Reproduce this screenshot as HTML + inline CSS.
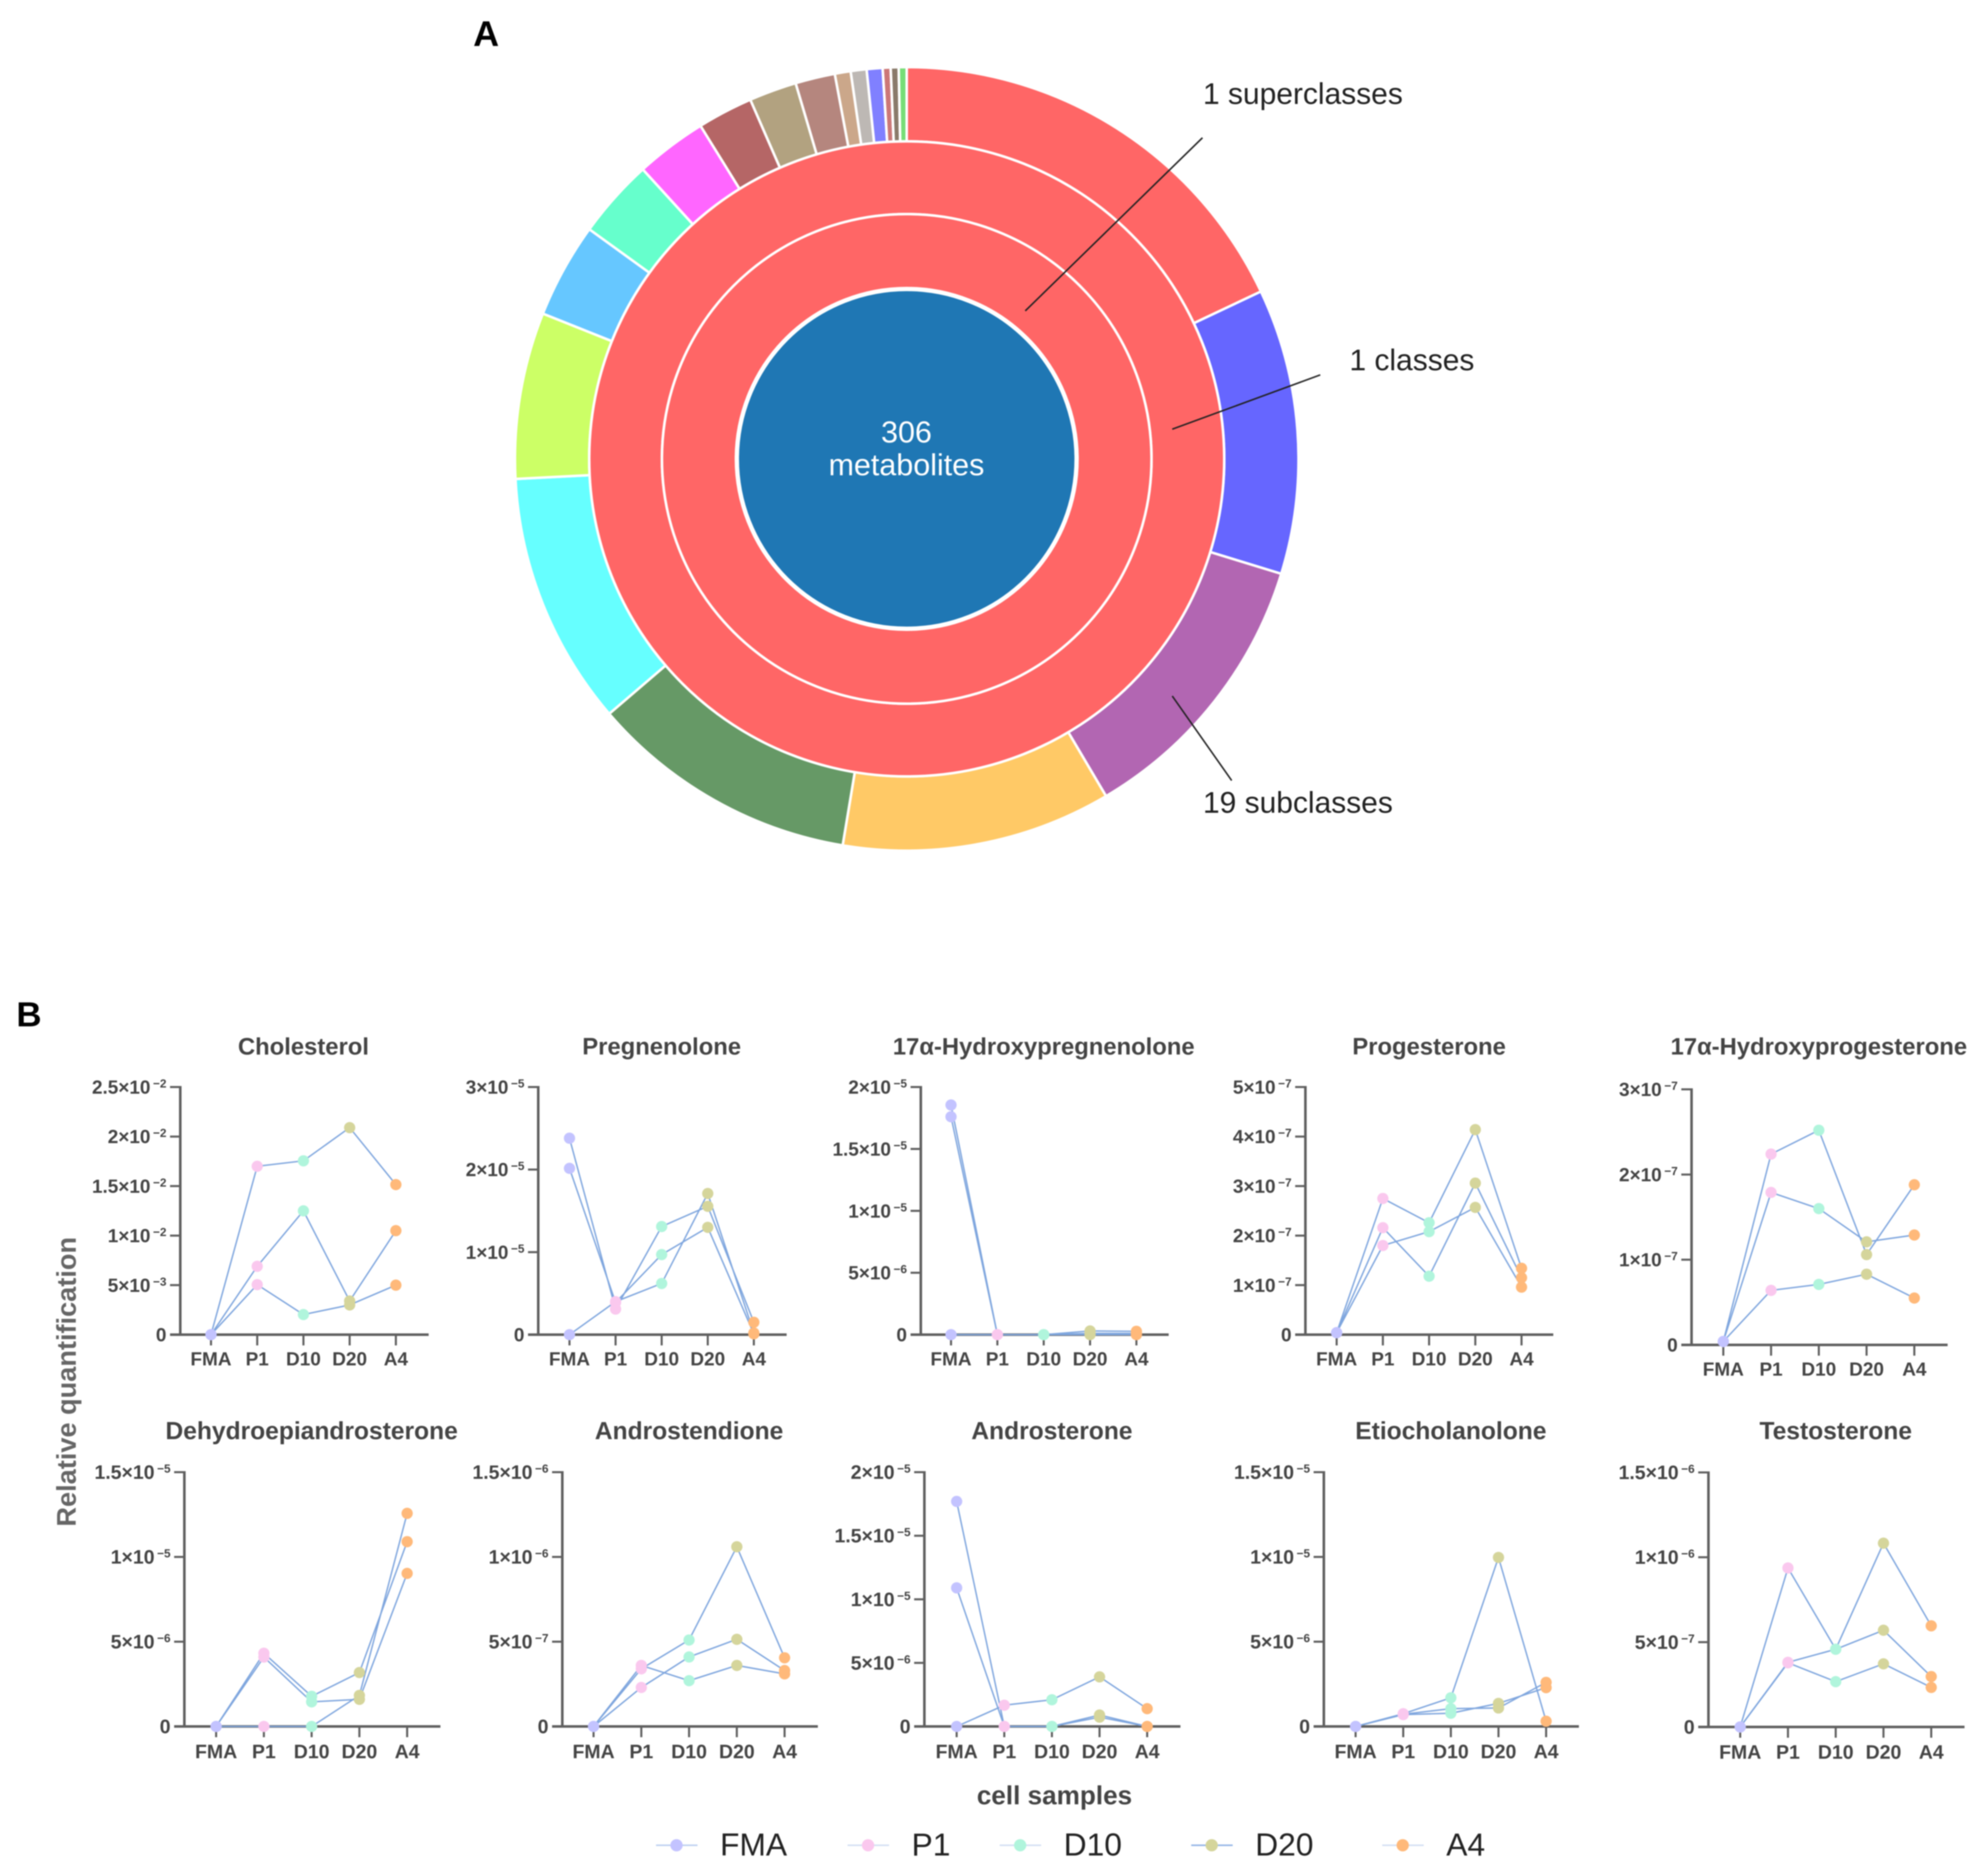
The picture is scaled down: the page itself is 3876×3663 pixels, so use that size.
<!DOCTYPE html>
<html lang="en">
<head>
<meta charset="utf-8">
<title>Steroid metabolite sunburst and relative quantification</title>
<style>
  html, body { margin: 0; padding: 0; background: #fff; }
  body { width: 3876px; height: 3663px; overflow: hidden; }
  svg { display: block; font-family: "Liberation Sans", Arial, sans-serif; filter: blur(1px); }
</style>
</head>
<body>
<svg id="figure" xmlns="http://www.w3.org/2000/svg" width="3876" height="3663" viewBox="0 0 3876 3663"></svg>
<script>
// ----- Panel A data -----
const subclassCounts = [55, 36, 36, 34, 34, 32, 21, 12, 10, 9, 7, 6, 5, 2, 2, 2, 1, 1, 1];
const classCounts = [306];
const superclassCounts = [306];
const totalMetabolites = [306];

// ----- Panel B data -----
const categories = ['FMA', 'P1', 'D10', 'D20', 'A4'];
const panelTitles = ['Cholesterol', 'Pregnenolone', '17α-Hydroxypregnenolone', 'Progesterone', '17α-Hydroxyprogesterone',
  'Dehydroepiandrosterone', 'Androstendione', 'Androsterone', 'Etiocholanolone', 'Testosterone'];

const cholesterolValues = [[0, 17.0, 17.55, 20.9, 15.15], [0, 6.9, 12.5, 3.4, 10.5], [0, 5.05, 2.03, 3.0, 5.0]];
const cholesterolTicks = [0, 5, 10, 15, 20, 25];
const cholesterolTickLabels = ['0', '5×10^3', '1×10^2', '1.5×10^2', '2×10^2', '2.5×10^2'];

const pregnenoloneValues = [[23.8, 3.1, 13.1, 15.55, 1.5], [20.15, 3.9, 9.7, 13.0, 0.1], [0, 4.0, 6.2, 17.1, 0.2]];
const pregnenoloneTicks = [0, 10, 20, 30];
const pregnenoloneTickLabels = ['0', '1×10^5', '2×10^5', '3×10^5'];

const hydroxypregnenoloneValues = [[18.55, 0, 0, 0.3, 0.27], [17.6, 0, 0, 0.1, 0.1], [0, 0, 0, 0, 0]];
const hydroxypregnenoloneTicks = [0, 5, 10, 15, 20];
const hydroxypregnenoloneTickLabels = ['0', '5×10^6', '1×10^5', '1.5×10^5', '2×10^5'];

const progesteroneValues = [[0.04, 2.75, 2.26, 4.14, 1.34], [0.04, 2.16, 1.18, 3.06, 1.15], [0.04, 1.8, 2.08, 2.57, 0.96]];
const progesteroneTicks = [0, 1, 2, 3, 4, 5];
const progesteroneTickLabels = ['0', '1×10^7', '2×10^7', '3×10^7', '4×10^7', '5×10^7'];

const hydroxyprogesteroneValues = [[0.04, 2.24, 2.52, 1.06, 1.88], [0.04, 1.79, 1.6, 1.21, 1.29], [0.04, 0.64, 0.71, 0.83, 0.55]];
const hydroxyprogesteroneTicks = [0, 1, 2, 3];
const hydroxyprogesteroneTickLabels = ['0', '1×10^7', '2×10^7', '3×10^7'];

const dheaValues = [[0, 4.32, 1.78, 3.18, 10.9], [0, 4.09, 1.45, 1.6, 9.03], [0, 0, 0, 1.83, 12.57]];
const dheaTicks = [0, 5, 10, 15];
const dheaTickLabels = ['0', '5×10^6', '1×10^5', '1.5×10^5'];

const androstendioneValues = [[0, 3.6, 2.7, 3.6, 3.1], [0, 3.4, 5.1, 10.6, 4.05], [0, 2.3, 4.1, 5.14, 3.3]];
const androstendioneTicks = [0, 5, 10, 15];
const androstendioneTickLabels = ['0', '5×10^7', '1×10^6', '1.5×10^6'];

const androsteroneValues = [[17.7, 0, 0, 0.9, 0], [10.9, 0, 0, 0.73, 0], [0, 1.67, 2.1, 3.9, 1.4]];
const androsteroneTicks = [0, 5, 10, 15, 20];
const androsteroneTickLabels = ['0', '5×10^6', '1×10^5', '1.5×10^5', '2×10^5'];

const etiocholanoloneValues = [[0, 0.75, 1.69, 9.97, 0.31], [0, 0.72, 1.05, 1.09, 2.6], [0, 0.7, 0.78, 1.36, 2.29]];
const etiocholanoloneTicks = [0, 5, 10, 15];
const etiocholanoloneTickLabels = ['0', '5×10^6', '1×10^5', '1.5×10^5'];

const testosteroneValues = [[0, 9.37, 4.58, 10.83, 5.96], [0, 3.81, 4.58, 5.7, 2.97], [0, 3.78, 2.67, 3.72, 2.33]];
const testosteroneTicks = [0, 5, 10, 15];
const testosteroneTickLabels = ['0', '5×10^7', '1×10^6', '1.5×10^6'];

// ----- Styles and layout (not data) -----
const subclassColors = ['#FF6666', '#6666FF', '#B266B2', '#FFC966', '#669966', '#66FFFF', '#CCFF66', '#66C7FF', '#66FFCC', '#FF66FF',
  '#B56666', '#B2A280', '#B5867E', '#CBA78A', '#BDB8B4', '#8080FF', '#CC7777', '#8A7A6A', '#77DD77'];
const markerColors = ['#C3C3FF', '#FAC8EE', '#B0F5DC', '#D5D59B', '#FFB97A'];
const legendLineColors = ['#BCD0F0', '#D3DFF3', '#D3DFF3', '#92B4E6', '#D3DFF3'];
const frames = [
  { axisX: 352,  x0: 412,  step: 90.25, end: 837,  top: 2122.5, bottom: 2606 },
  { axisX: 1051, x0: 1112, step: 90,    end: 1536, top: 2122.5, bottom: 2606 },
  { axisX: 1798, x0: 1857, step: 90.5,  end: 2282, top: 2122.5, bottom: 2606 },
  { axisX: 2549, x0: 2610, step: 90.25, end: 3033, top: 2122.5, bottom: 2606 },
  { axisX: 3303, x0: 3365, step: 93.25, end: 3803, top: 2127,   bottom: 2626 },
  { axisX: 360,  x0: 422,  step: 93.25, end: 860,  top: 2874.5, bottom: 3371 },
  { axisX: 1098, x0: 1159, step: 93.25, end: 1597, top: 2874.5, bottom: 3371 },
  { axisX: 1805, x0: 1868, step: 93,    end: 2305, top: 2874.5, bottom: 3371 },
  { axisX: 2585, x0: 2647, step: 93,    end: 3083, top: 2874.5, bottom: 3371 },
  { axisX: 3336, x0: 3398, step: 93.25, end: 3836, top: 2875,   bottom: 3372 }
];
const panelSeries = [cholesterolValues, pregnenoloneValues, hydroxypregnenoloneValues, progesteroneValues, hydroxyprogesteroneValues,
  dheaValues, androstendioneValues, androsteroneValues, etiocholanoloneValues, testosteroneValues];
const panelTicks = [cholesterolTicks, pregnenoloneTicks, hydroxypregnenoloneTicks, progesteroneTicks, hydroxyprogesteroneTicks,
  dheaTicks, androstendioneTicks, androsteroneTicks, etiocholanoloneTicks, testosteroneTicks];
const panelTickLabels = [cholesterolTickLabels, pregnenoloneTickLabels, hydroxypregnenoloneTickLabels, progesteroneTickLabels, hydroxyprogesteroneTickLabels,
  dheaTickLabels, androstendioneTickLabels, androsteroneTickLabels, etiocholanoloneTickLabels, testosteroneTickLabels];

const NS = 'http://www.w3.org/2000/svg';
const svg = document.getElementById('figure');
const AXIS = '#5f5f5f', TEXT = '#444444', LINE = '#7FA6DE';

function make(parent, tag, attrs, text) {
  const node = document.createElementNS(NS, tag);
  for (const key in attrs) node.setAttribute(key, attrs[key]);
  if (text !== undefined) node.textContent = text;
  parent.appendChild(node);
  return node;
}

// ----- Panel A -----
const cx = 1770.5, cy = 896;
const radii = [333.5, 478, 620, 765];

function polar(r, angle) {
  const a = (angle - 90) * Math.PI / 180;
  return [cx + r * Math.cos(a), cy + r * Math.sin(a)];
}
function ringPath(r0, r1, a0, a1) {
  if (a1 - a0 >= 359.999) {
    return 'M' + (cx - r1) + ' ' + cy + 'A' + r1 + ' ' + r1 + ' 0 1 1 ' + (cx + r1) + ' ' + cy + 'A' + r1 + ' ' + r1 + ' 0 1 1 ' + (cx - r1) + ' ' + cy + 'Z' +
      'M' + (cx - r0) + ' ' + cy + 'A' + r0 + ' ' + r0 + ' 0 1 0 ' + (cx + r0) + ' ' + cy + 'A' + r0 + ' ' + r0 + ' 0 1 0 ' + (cx - r0) + ' ' + cy + 'Z';
  }
  const large = a1 - a0 > 180 ? 1 : 0;
  const p0 = polar(r1, a0), p1 = polar(r1, a1), p2 = polar(r0, a1), p3 = polar(r0, a0);
  return 'M' + p0[0] + ' ' + p0[1] + 'A' + r1 + ' ' + r1 + ' 0 ' + large + ' 1 ' + p1[0] + ' ' + p1[1] +
    'L' + p2[0] + ' ' + p2[1] + 'A' + r0 + ' ' + r0 + ' 0 ' + large + ' 0 ' + p3[0] + ' ' + p3[1] + 'Z';
}
function drawRing(counts, r0, r1, colors, name) {
  const total = counts.reduce((s, v) => s + v, 0);
  let angle = 0;
  counts.forEach((count, i) => {
    const next = angle + count / total * 360;
    const slice = make(svg, 'path', { d: ringPath(r0, r1, angle, next), fill: colors[i], 'fill-rule': 'evenodd', stroke: '#fff', 'stroke-width': 5 });
    
    
    angle = next;
  });
}
drawRing(subclassCounts, radii[2], radii[3], subclassColors, 'subclass-slice');
drawRing(classCounts, radii[1], radii[2], ['#FF6666'], 'class-ring');
drawRing(superclassCounts, radii[0], radii[1], ['#FF6666'], 'superclass-ring');

const centerCircle = make(svg, 'circle', { cx: cx, cy: cy, r: radii[0] - 3, fill: '#1F77B4', stroke: '#fff', 'stroke-width': 6 });



const centerCount = make(svg, 'text', { x: 1770, y: 864, 'text-anchor': 'middle', 'font-size': 59.5, fill: '#fff' }, String(totalMetabolites[0]));



const centerWord = make(svg, 'text', { x: 1770, y: 928, 'text-anchor': 'middle', 'font-size': 59.5, fill: '#fff' }, 'metabolites');



const leader1 = make(svg, 'line', { x1: 2348, y1: 269, x2: 2002, y2: 607, stroke: '#222', 'stroke-width': 3 });



const leader2 = make(svg, 'line', { x1: 2578, y1: 732, x2: 2289, y2: 838, stroke: '#222', 'stroke-width': 3 });



const leader3 = make(svg, 'line', { x1: 2289, y1: 1359, x2: 2405, y2: 1524, stroke: '#222', 'stroke-width': 3 });



const label1 = make(svg, 'text', { x: 2349, y: 203, 'font-size': 58.5, fill: '#222' }, '1 superclasses');



const label2 = make(svg, 'text', { x: 2635, y: 723, 'font-size': 58.5, fill: '#222' }, '1 classes');



const label3 = make(svg, 'text', { x: 2349, y: 1587, 'font-size': 58.5, fill: '#222' }, '19 subclasses');



const panelA = make(svg, 'text', { x: 924, y: 90, 'font-size': 70, 'font-weight': 'bold', fill: '#000' }, 'A');



const panelB = make(svg, 'text', { x: 32, y: 2004, 'font-size': 68, 'font-weight': 'bold', fill: '#000' }, 'B');



// ----- Panel B -----
function drawPanel(index) {
  const frame = frames[index];
  const ticks = panelTicks[index];
  const labels = panelTickLabels[index];
  const series = panelSeries[index];
  const slug = panelTitles[index].toLowerCase().replace(/[^a-z0-9]+/g, '-');
  const maxTick = ticks[ticks.length - 1];
  const lowerRow = frame.bottom > 3000;
  const titleSize = lowerRow ? 48 : 46.5;
  const labelSize = lowerRow ? 38 : 37;
  const xLabelOffset = lowerRow ? 62 : 60;
  const xScale = i => frame.x0 + i * frame.step;
  const yScale = v => frame.bottom - (v / maxTick) * (frame.bottom - frame.top);

  const group = make(svg, 'g', {});
  
  

  const title = make(group, 'text', { x: xScale(2), y: lowerRow ? 2810 : 2059, 'text-anchor': 'middle', 'font-size': titleSize, 'font-weight': 'bold', fill: TEXT }, panelTitles[index]);
  
  

  const yAxis = make(group, 'line', { x1: frame.axisX, y1: frame.top - 2, x2: frame.axisX, y2: frame.bottom, stroke: AXIS, 'stroke-width': 5 });
  
  

  const xAxis = make(group, 'line', { x1: frame.axisX - 20, y1: frame.bottom, x2: frame.end, y2: frame.bottom, stroke: AXIS, 'stroke-width': 5 });
  
  

  ticks.forEach((tick, t) => {
    const y = yScale(tick);
    const tickMark = make(group, 'line', { x1: frame.axisX - 20, y1: y, x2: frame.axisX, y2: y, stroke: AXIS, 'stroke-width': 4 });
    
    

    const parts = labels[t].split('^');
    const tickText = make(group, 'text', { x: frame.axisX - 27, y: y + 13, 'text-anchor': 'end', 'font-size': labelSize, 'font-weight': 'bold', fill: TEXT }, parts[0]);
    
    
    if (parts[1]) {
      make(tickText, 'tspan', { dx: 5, dy: -12, 'font-size': 23 }, '−' + parts[1]);
    }
  });

  categories.forEach((category, i) => {
    const x = xScale(i);
    const tickMark = make(group, 'line', { x1: x, y1: frame.bottom, x2: x, y2: frame.bottom + 21, stroke: AXIS, 'stroke-width': 4 });
    
    

    const tickText = make(group, 'text', { x: x, y: frame.bottom + xLabelOffset, 'text-anchor': 'middle', 'font-size': labelSize, 'font-weight': 'bold', fill: TEXT }, category);
    
    
  });

  series.forEach(values => {
    const points = values.map((v, i) => xScale(i) + ',' + yScale(v)).join(' ');
    const trend = make(group, 'polyline', { points: points, fill: 'none', stroke: LINE, 'stroke-width': 2.8 });
    
    
  });
  series.forEach(values => {
    values.forEach((v, i) => {
      const dot = make(group, 'circle', { cx: xScale(i), cy: yScale(v), r: 11, fill: markerColors[i] });
      
      
    });
  });
}
panelTitles.forEach((_, i) => drawPanel(i));

const yTitle = make(svg, 'text', { transform: 'translate(148 2698) rotate(-90)', 'text-anchor': 'middle', 'font-size': 53, 'font-weight': 'bold', fill: '#666' }, 'Relative quantification');



const xTitle = make(svg, 'text', { x: 2059, y: 3523, 'text-anchor': 'middle', 'font-size': 51, 'font-weight': 'bold', fill: TEXT }, 'cell samples');



// ----- Legend -----
const legendMarkerX = [1321, 1695, 1992, 2366, 2739];
categories.forEach((category, i) => {
  const mx = legendMarkerX[i];
  const entry = make(svg, 'g', {});
  
  
  make(entry, 'line', { x1: mx - 40, y1: 3603, x2: mx + 41, y2: 3603, stroke: legendLineColors[i], 'stroke-width': 3 });
  make(entry, 'circle', { cx: mx, cy: 3603, r: 12, fill: markerColors[i] });
  make(entry, 'text', { x: mx + 85, y: 3623, 'font-size': 62, fill: '#222' }, category);
});
</script>
</body>
</html>
